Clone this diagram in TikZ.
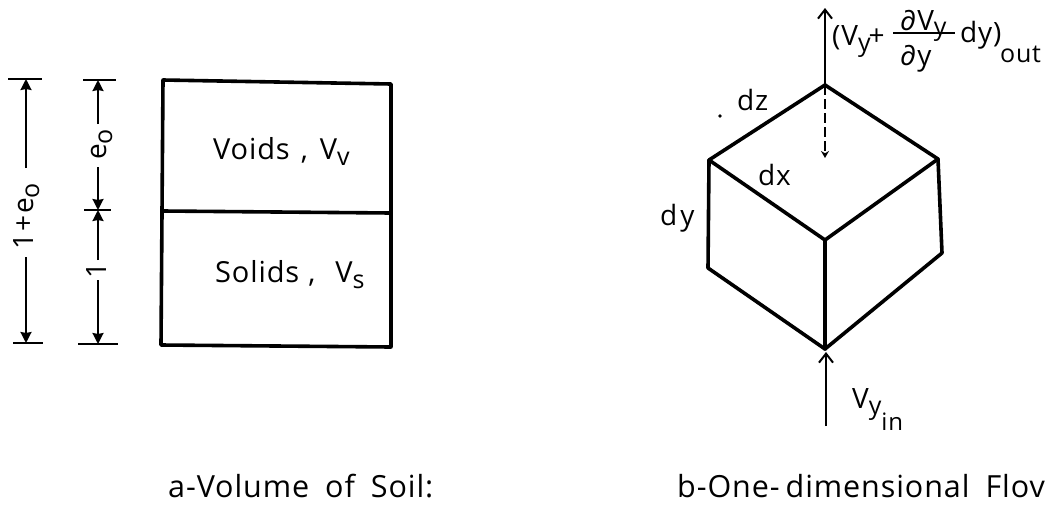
\documentclass[tikz,border=0pt]{standalone}
\usepackage{fontspec}
\setmainfont[LetterSpace=3]{Open Sans}
\usetikzlibrary{arrows.meta}
\newcommand{\subtxt}[2][-6pt]{\raisebox{#1}{\fontsize{25}{28}\selectfont #2}}
\tikzset{
  x=1pt,y=-1pt,
  heavy/.style={line width=3.6pt,line join=round,line cap=round},
  tickln/.style={line width=2.2pt},
  dimarr/.style={line width=2pt,-{Stealth[length=11pt,width=11pt,inset=1pt]}},
  openarr/.style={line width=2pt,-{Straight Barb[length=9pt,width=14pt]}},
  lbl/.style={inner sep=0pt,font=\fontsize{28}{32}\selectfont},
  bl/.style={lbl,anchor=base west},
  bigl/.style={inner sep=0pt,font=\fontsize{29}{32}\selectfont,anchor=base west},
  captxt/.style={inner sep=0pt,font=\fontsize{30.5}{34}\selectfont,anchor=base west},
}
\begin{document}
\begin{tikzpicture}
\useasboundingbox (0,0) rectangle (1049,509);
\fill[white] (0,0) rectangle (1049,509);
\clip (0,0) rectangle (1049,509);
% box
\coordinate (tl) at (163,80); \coordinate (tr) at (391,84);
\coordinate (br) at (391,347); \coordinate (bl) at (161,345);
\coordinate (ml) at (163,211); \coordinate (mr) at (391,213);
\draw[heavy] (tl)--(tr)--(br)--(bl)--cycle;
\draw[heavy] (ml)--(mr);
% dimension 1
\coordinate (a1) at (26,79); \coordinate (a2) at (26,343);
\coordinate (a1s) at (26,168); \coordinate (a2s) at (26,257);
\draw[tickln] (8,79)--(42,79);
\draw[tickln] (13,343)--(43,343);
\draw[dimarr] (a1s)--(a1);
\draw[dimarr] (a2s)--(a2);
\node[lbl,rotate=90,anchor=base west] (n1) at (33,250) {1\hspace{2pt}+\hspace{2pt}e\subtxt{o}};
% dimension 2
\coordinate (b1) at (98,80); \coordinate (bm) at (98,210); \coordinate (b2) at (98,344);
\coordinate (b1s) at (98,124); \coordinate (bm1) at (98,167);
\coordinate (bm2) at (98,260); \coordinate (b2s) at (98,280);
\draw[tickln] (83,80)--(116,80);
\draw[tickln] (84,210)--(111,210);
\draw[tickln] (78,344)--(118,344);
\draw[dimarr] (b1s)--(b1);
\draw[dimarr] (bm1)--(bm);
\draw[dimarr] (bm2)--(bm);
\draw[dimarr] (b2s)--(b2);
\node[lbl,rotate=90,anchor=base west] (n2) at (106,160) {e\subtxt{o}};
\node[lbl,rotate=90,anchor=base] (n3) at (106,270) {1};
% labels
\node[bigl] (v) at (213,159) {Voids\hspace{11pt},\hspace{12pt}V\subtxt{v}};
\node[bigl] (s) at (215,282) {Solids\hspace{9pt},\hspace{20pt}V\subtxt{s}};
% cube
\coordinate (T) at (825,85); \coordinate (L) at (709,160); \coordinate (R) at (938,159);
\coordinate (C) at (825,240); \coordinate (LB) at (708,268); \coordinate (RB) at (942,253);
\coordinate (B) at (825,349);
\draw[heavy] (T)--(L)--(C)--(R)--cycle;
\draw[heavy] (L)--(LB)--(B)--(RB)--(R);
\draw[heavy] (C)--(B);
\coordinate (up) at (825,8); \coordinate (D) at (825,158);
\coordinate (in) at (826,426); \coordinate (B2) at (826,352);
\draw[openarr] (T)--(up);
\draw[line width=2pt,dash pattern=on 10pt off 4pt,-{Stealth[length=7pt,width=8pt]}] (T)--(D);
\draw[openarr] (in)--(B2);
% cube labels
\node[bl] (dz) at (737,110) {dz};
\node[circle,fill,inner sep=0pt,minimum size=3.6pt] (dot) at (720,116) {};
\node[bl] (dx) at (758,185) {dx};
\node[bl] (dy) at (660,225) {d\hspace{3pt}y};
\node[bl] (vin) at (852,408) {V\subtxt[-6pt]{y}\subtxt[-22pt]{\fontsize{24}{28}\selectfont in}};
\node[bl] (f1) at (832,45) {(V\subtxt[-6pt]{y}\hspace{-2pt}+};
\node[bl] (f2) at (900,30) {∂V\subtxt[-5pt]{y}};
\node[bl] (f3) at (900,65) {∂y};
\draw[line width=1.8pt] (893,33)--(955,33);
\node[bl] (f4) at (960,42) {dy)};
\node[inner sep=0pt,font=\fontsize{25}{28}\selectfont,anchor=base west] (f5) at (1000,62) {out};
% captions
\node[captxt] (c1) at (168,497) {a-Volume\hspace{16pt}of\hspace{16pt}Soil:};
\node[captxt] (c2) at (677,497) {b-One-\hspace{6pt}dimensional\hspace{16pt}Flov};
\end{tikzpicture}
\end{document}
